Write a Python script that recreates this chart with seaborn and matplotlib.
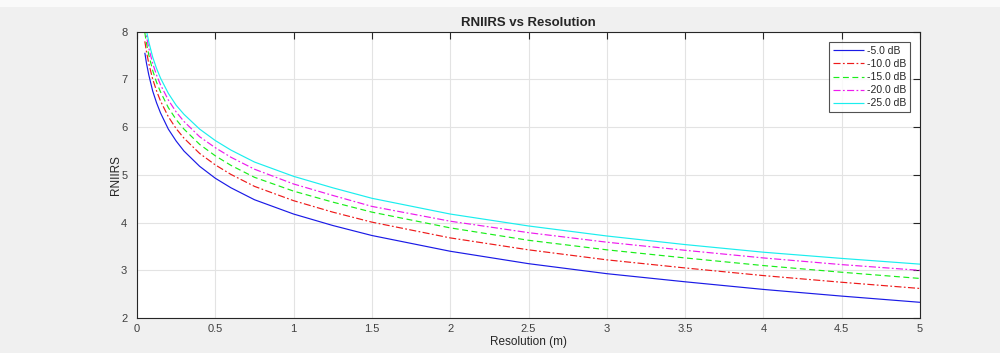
import numpy as np
import pandas as pd
import matplotlib
matplotlib.use("Agg")
import matplotlib.pyplot as plt
import seaborn as sns

# resolution (m) sample points
resolution = [0.05, 0.06, 0.075, 0.1, 0.125, 0.15, 0.2, 0.25, 0.3, 0.4, 0.5, 0.6,
              0.75, 1.0, 1.25, 1.5, 2.0, 2.5, 3.0, 3.5, 4.0, 4.5, 5.0]

rniirs_5db = [7.56, 7.35, 7.10, 6.76, 6.51, 6.30, 5.96, 5.71, 5.50, 5.18, 4.93, 4.73,
              4.48, 4.18, 3.94, 3.73, 3.40, 3.14, 2.93, 2.76, 2.60, 2.46, 2.33]
rniirs_10db = [7.80, 7.59, 7.34, 7.01, 6.76, 6.55, 6.22, 5.97, 5.77, 5.45, 5.21, 5.01,
               4.76, 4.46, 4.22, 4.01, 3.68, 3.43, 3.22, 3.05, 2.89, 2.75, 2.62]
rniirs_15db = [7.98, 7.77, 7.52, 7.19, 6.94, 6.74, 6.41, 6.16, 5.96, 5.64, 5.40, 5.20,
               4.95, 4.66, 4.43, 4.22, 3.89, 3.63, 3.43, 3.26, 3.10, 2.96, 2.83]
rniirs_20db = [8.12, 7.91, 7.66, 7.34, 7.09, 6.89, 6.57, 6.32, 6.12, 5.80, 5.57, 5.37,
               5.12, 4.81, 4.57, 4.34, 4.03, 3.79, 3.59, 3.42, 3.26, 3.12, 3.00]
rniirs_25db = [8.24, 8.03, 7.79, 7.47, 7.23, 7.03, 6.71, 6.46, 6.27, 5.96, 5.72, 5.52,
               5.27, 4.97, 4.73, 4.51, 4.18, 3.93, 3.72, 3.54, 3.38, 3.25, 3.13]

labels = ["-5.0 dB", "-10.0 dB", "-15.0 dB", "-20.0 dB", "-25.0 dB"]
series = [rniirs_5db, rniirs_10db, rniirs_15db, rniirs_20db, rniirs_25db]
colors = ["#1a1ae6", "#ee1a1a", "#1aee1a", "#ee1aee", "#1aeeee"]
styles = [(0, ()), (0, (6, 2, 1.5, 2)), (0, (5, 3)), (0, (6, 2, 1.5, 2)), (0, ())]

sns.set_style("white")
plt.rcParams["font.family"] = ["Liberation Sans", "DejaVu Sans"]

fig = plt.figure(figsize=(10, 3.53), dpi=100, facecolor="#f0f0f0")
# lighter strip along the top edge (window toolbar edge)
fig.patches.append(plt.Rectangle((0, 1 - 7 / 353), 1, 7 / 353, transform=fig.transFigure,
                                 facecolor="#fafafa", edgecolor="none", zorder=0))
ax = fig.add_axes([0.137, 0.099, 0.783, 0.811])
ax.set_facecolor("white")

for vals, lab, col, ls in zip(series, labels, colors, styles):
    df = pd.DataFrame({"res": resolution, "rniirs": vals})
    sns.lineplot(data=df, x="res", y="rniirs", ax=ax, color=col, label=lab,
                 linewidth=0.85, linestyle=ls)

ax.set_xlim(0, 5)
ax.set_ylim(2, 8)
ax.set_xticks(np.arange(0, 5.01, 0.5))
ax.set_xticklabels(["0", "0.5", "1", "1.5", "2", "2.5", "3", "3.5", "4", "4.5", "5"])
ax.set_yticks(range(2, 9))
ax.grid(True, color="#e3e3e3", linewidth=0.8)
ax.set_axisbelow(True)
ax.tick_params(direction="in", length=5, width=0.8, colors="#262626",
               labelsize=8, top=True, right=True, labelcolor="#404040")
ax.tick_params(axis="x", pad=4)
ax.tick_params(axis="y", pad=7)
for sp in ax.spines.values():
    sp.set_color("#262626")
    sp.set_linewidth(0.8)

ax.set_title("RNIIRS vs Resolution", fontsize=9.5, fontweight="bold", pad=4)
ax.set_xlabel("Resolution (m)", fontsize=8.5, color="#262626", labelpad=2)
ax.set_ylabel("RNIIRS", fontsize=8.5, color="#262626", labelpad=-1)

leg = ax.legend(loc="upper right", fontsize=7.5, frameon=True, fancybox=False,
                handlelength=3, handletextpad=0.3, borderpad=0.35,
                labelspacing=0.3, borderaxespad=0.6, bbox_to_anchor=(0.995, 0.985))
leg.get_frame().set_edgecolor("#262626")
leg.get_frame().set_linewidth(0.8)

fig.savefig("out.png", dpi=100, facecolor=fig.get_facecolor())
